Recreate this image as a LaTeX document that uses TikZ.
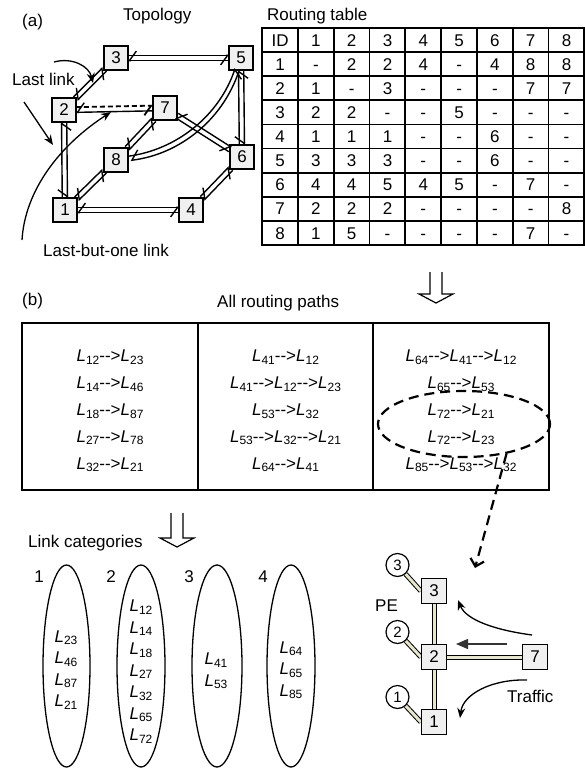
\documentclass[tikz,border=0pt]{standalone}
\usepackage{fontspec}
\setmainfont{Liberation Sans}
\usetikzlibrary{arrows.meta,calc,shapes.geometric,matrix}
\pgfdeclarelayer{background}
\pgfsetlayers{background,main}
\definecolor{boxgray}{HTML}{F0F0F0}
\definecolor{linkfill}{HTML}{E6E6CE}
\newcommand\Lk[1]{\textit{L}\raisebox{-2.5pt}{\fontsize{12}{12}\selectfont #1}}
\newcommand\pth{-{}->}
\newcommand\tlink[4][]{%
  \draw[tl,#1,shorten <=#4,shorten >=#4] ($(#2)!2.6pt!90:(#3)$) -- ($(#3)!2.6pt!-90:(#2)$);}
\newcommand\hollowdown[4]{% x, top, base, tip
  \draw[line width=1.2pt] (#1-6,#2) -- (#1-6,#3) -- (#1-17,#3) -- (#1,#4) -- (#1+17,#3) -- (#1+6,#3) -- (#1+6,#2);}
\tikzset{
  every node/.style={font=\fontsize{17}{20}\selectfont},
  tbox/.style={draw, fill=boxgray, minimum size=24pt, inner sep=0pt, line width=1.2pt},
  pbox/.style={draw, fill=boxgray, minimum size=25pt, inner sep=0pt, line width=1.3pt},
  pcirc/.style={draw, fill=white, circle, minimum size=23pt, inner sep=0pt, line width=1.2pt, font=\fontsize{15}{15}\selectfont},
  tl/.style={line width=1.4pt, -{Straight Barb[harpoon,swap,length=7pt,width=19pt]}},
  ann/.style={line width=1.3pt, -{Stealth[length=10pt,width=8pt]}},
  plink/.style={line width=1pt, draw=black, double=linkfill, double distance=3pt},
  tline/.style={line width=1.8pt},
  lbl/.style={anchor=base west, inner sep=0pt},
  ptext/.style={align=center, inner sep=0pt, font=\fontsize{17}{26.8}\selectfont},
  ctext/.style={align=center, inner sep=0pt, font=\fontsize{17}{21.5}\selectfont},
  cat/.style={draw, ellipse, line width=1.3pt, minimum width=47pt, minimum height=202pt, inner sep=0pt},
}
\begin{document}
\begin{tikzpicture}[x=1pt,y=-1pt]
\useasboundingbox (0,0) rectangle (585,769);

% ---------- (a) Topology ----------
\node[lbl] (la) at (22,26.5) {(a)};
\node[lbl] (ltopo) at (123,20) {Topology};
\node[lbl] (lrt) at (267,20) {Routing table};

\node[tbox] (t1) at (65,210) {1};
\node[tbox] (t2) at (64,110) {2};
\node[tbox] (t3) at (116,58) {3};
\node[tbox] (t4) at (191,210) {4};
\node[tbox] (t5) at (241,58) {5};
\node[tbox] (t6) at (242,157) {6};
\node[tbox] (t7) at (165,108) {7};
\node[tbox] (t8) at (116,160) {8};

\tlink{t3}{t5}{12}\tlink{t5}{t3}{12}
\tlink{t2}{t3}{16}\tlink{t3}{t2}{16}
\tlink[line width=1.8pt, dash pattern=on 5pt off 3pt]{t2}{t7}{12}\tlink{t7}{t2}{12}
\tlink{t2}{t1}{12}\tlink{t1}{t2}{12}
\tlink{t7}{t8}{16}\tlink{t8}{t7}{16}
\tlink{t8}{t1}{16}\tlink{t1}{t8}{16}
\tlink{t1}{t4}{12}\tlink{t4}{t1}{12}
\tlink{t4}{t6}{16}\tlink{t6}{t4}{16}
\tlink{t7}{t6}{14}\tlink{t6}{t7}{14}
\tlink{t5}{t6}{12}\tlink{t6}{t5}{12}
\draw[tl,shorten <=13pt,shorten >=13pt] ($(t5)!2.6pt!90:(t8)$) to[bend left=32] ($(t8)!2.6pt!-90:(t5)$);
\draw[tl,shorten <=13pt,shorten >=13pt] ($(t8)!2.6pt!90:(t5)$) to[bend right=32] ($(t5)!2.6pt!-90:(t8)$);

\node[lbl] (llast) at (12,85) {Last link};
\node[lbl] (llbo) at (43,256) {Last-but-one link};
\coordinate (a1s) at (54,62);
\coordinate (a1e) at (93,83);
\coordinate (a2s) at (24,102);
\coordinate (a2e) at (53,145);
\coordinate (a3s) at (22,240);
\coordinate (a3e) at (111,112);
\draw[ann] (a1s) .. controls (72,57) and (89,66) .. (a1e);
\draw[ann] (a2s) -- (a2e);
\draw[ann] (a3s) .. controls (25,190) and (60,145) .. (a3e);

% ---------- Routing table ----------
\matrix (rt) [matrix of nodes, anchor=north west, inner sep=0pt, column sep=0pt, row sep=0pt,
  nodes={minimum width=35.8pt, minimum height=24.1pt, inner sep=0pt, anchor=center, text height=12pt, text depth=0pt}] at (262,28) {
ID & 1 & 2 & 3 & 4 & 5 & 6 & 7 & 8 \\
1 & - & 2 & 2 & 4 & - & 4 & 8 & 8 \\
2 & 1 & - & 3 & - & - & - & 7 & 7 \\
3 & 2 & 2 & - & - & 5 & - & - & - \\
4 & 1 & 1 & 1 & - & - & 6 & - & - \\
5 & 3 & 3 & 3 & - & - & 6 & - & - \\
6 & 4 & 4 & 5 & 4 & 5 & - & 7 & - \\
7 & 2 & 2 & 2 & - & - & - & - & 8 \\
8 & 1 & 5 & - & - & - & - & 7 & - \\
};
\foreach \i in {0,...,9} \draw[tline] ({262+\i*35.8},28) -- ({262+\i*35.8},245);
\foreach \j in {0,...,9} \draw[tline] (261.1,{28+\j*24.1}) -- (585,{28+\j*24.1});

% ---------- (b) ----------
\hollowdown{436}{272}{294}{303}
\node[lbl] (lb) at (22,305) {(b)};
\node[lbl] (lpaths) at (217,307) {All routing paths};

\node[draw, line width=1.4pt, minimum width=176pt, minimum height=167pt, inner sep=0pt] (col1) at (110,406.5) {};
\node[draw, line width=1.4pt, minimum width=175pt, minimum height=167pt, inner sep=0pt] (col2) at (285.5,406.5) {};
\node[draw, line width=1.4pt, minimum width=176pt, minimum height=167pt, inner sep=0pt] (col3) at (461,406.5) {};

\node[ptext] (pt1) at (110,411) {\Lk{12}\pth\Lk{23}\\ \Lk{14}\pth\Lk{46}\\ \Lk{18}\pth\Lk{87}\\ \Lk{27}\pth\Lk{78}\\ \Lk{32}\pth\Lk{21}};
\node[ptext] (pt2) at (285.5,411) {\Lk{41}\pth\Lk{12}\\ \Lk{41}\pth\Lk{12}\pth\Lk{23}\\ \Lk{53}\pth\Lk{32}\\ \Lk{53}\pth\Lk{32}\pth\Lk{21}\\ \Lk{64}\pth\Lk{41}};
\node[ptext] (pt3) at (461,411) {\Lk{64}\pth\Lk{41}\pth\Lk{12}\\ \Lk{65}\pth\Lk{53}\\ \Lk{72}\pth\Lk{21}\\ \Lk{72}\pth\Lk{23}\\ \Lk{85}\pth\Lk{53}\pth\Lk{32}};

\node[draw, ellipse, line width=2.2pt, dash pattern=on 10pt off 6pt, minimum width=172pt, minimum height=66pt, inner sep=0pt] (sel) at (464,424) {};

% ---------- Link categories ----------
\hollowdown{177}{513}{538}{547}
\node[lbl] (lcat) at (28,547) {Link categories};
\node[cat] (e1) at (66.5,666) {};
\node[cat, minimum width=48pt] (e2) at (141,666) {};
\node[cat, minimum width=50pt] (e3) at (217,666) {};
\node[cat, minimum width=48pt] (e4) at (291,666) {};
\node (n1) at (39,577) {1};
\node (n2) at (111,577) {2};
\node (n3) at (189,577) {3};
\node (n4) at (263,577) {4};
\node[ctext] (ct1) at (66,670) {\Lk{23}\\ \Lk{46}\\ \Lk{87}\\ \Lk{21}};
\node[ctext] (ct2) at (141,671.5) {\Lk{12}\\ \Lk{14}\\ \Lk{18}\\ \Lk{27}\\ \Lk{32}\\ \Lk{65}\\ \Lk{72}};
\node[ctext] (ct3) at (216,671) {\Lk{41}\\ \Lk{53}};
\node[ctext] (ct4) at (291,670) {\Lk{64}\\ \Lk{65}\\ \Lk{85}};

% ---------- PE diagram ----------
\node[pbox] (p3) at (434,591) {3};
\node[pbox] (p2) at (434,657) {2};
\node[pbox] (p1) at (434,722) {1};
\node[pbox] (p7) at (535,657) {7};
\node[pcirc] (c3) at (397.5,565) {3};
\node[pcirc] (c2) at (397.5,632) {2};
\node[pcirc] (c1) at (397.5,697) {1};
\begin{pgfonlayer}{background}
\draw[plink] (c3) -- (p3.west);
\draw[plink] (c2) -- (p2.west);
\draw[plink] (c1) -- (p1.west);
\draw[plink] (p3) -- (p2);
\draw[plink] (p2) -- (p1);
\draw[plink] (p2) -- (p7);
\end{pgfonlayer}
\node[lbl] (lpe) at (375,611) {PE};
\node[lbl] (ltraf) at (507,702) {Traffic};
\coordinate (b1s) at (532,635);
\coordinate (b1e) at (458,600);
\coordinate (b2s) at (507,644);
\coordinate (b2e) at (456,644);
\coordinate (b3s) at (527,680);
\coordinate (b3e) at (460,718);
\draw[ann] (b1s) .. controls (495,630) and (466,620) .. (b1e);
\draw[line width=1.3pt, draw=black!80, -{Triangle[length=12pt,width=10pt,fill=black!80]}] (b2s) -- (b2e);
\draw[ann] (b3s) .. controls (492,679) and (463,694) .. (b3e);
\coordinate (dse) at (475,568);
\draw[line width=2.2pt, dash pattern=on 10pt off 6pt, -{Straight Barb[length=7pt,width=14pt]}] (sel.-35) -- (dse);
\end{tikzpicture}
\end{document}
